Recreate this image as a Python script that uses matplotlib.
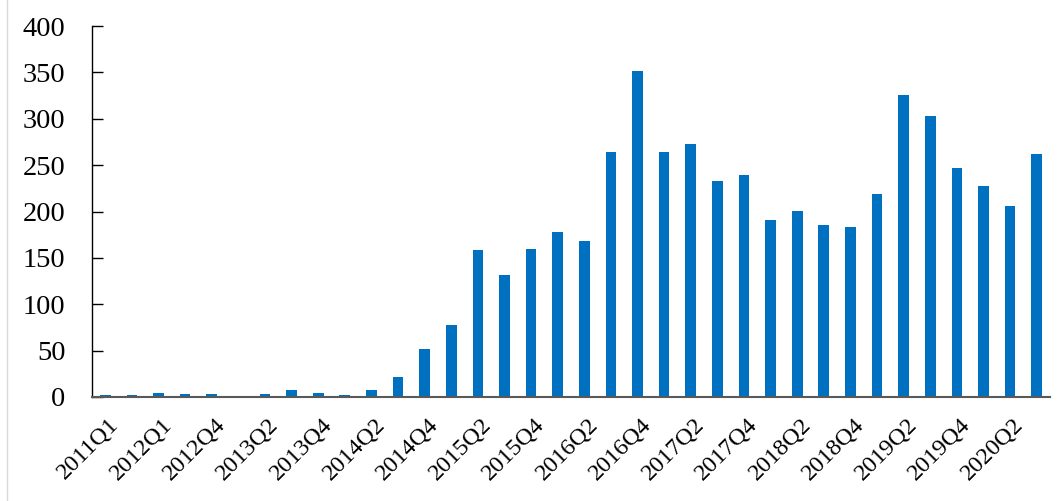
import matplotlib
matplotlib.use("Agg")
import matplotlib.pyplot as plt
from matplotlib.lines import Line2D
from matplotlib.transforms import ScaledTranslation

categories = ["2011Q1", "2011Q4", "2012Q1", "2012Q3", "2012Q4", "2013Q1", "2013Q2", "2013Q3",
              "2013Q4", "2014Q1", "2014Q2", "2014Q3", "2014Q4", "2015Q1", "2015Q2", "2015Q3",
              "2015Q4", "2016Q1", "2016Q2", "2016Q3", "2016Q4", "2017Q1", "2017Q2", "2017Q3",
              "2017Q4", "2018Q1", "2018Q2", "2018Q3", "2018Q4", "2019Q1", "2019Q2", "2019Q3",
              "2019Q4", "2020Q1", "2020Q2", "2020Q3"]
values = [2, 2, 4.5, 3, 3, 0, 3, 8,
          4, 2, 8, 22, 52, 78, 159, 131,
          160, 178, 168, 264, 352, 264, 273, 233,
          239, 191, 201, 185, 183, 219, 326, 303,
          247, 228, 206, 262]
yticks = [0, 50, 100, 150, 200, 250, 300, 350, 400]

plt.rcParams['font.family'] = ['Liberation Serif', 'DejaVu Serif']

fig = plt.figure(figsize=(10.59, 5.01), dpi=100)
ax = fig.add_axes([92/1059, 104/501, (1050-92)/1059, (397-26)/501])

x = list(range(len(categories)))
ax.bar(x, values, width=0.4, color="#0070C0", zorder=2)

ax.set_xlim(-0.5, len(categories) - 0.5)
ax.set_ylim(0, 400)
ax.set_yticks(yticks)
ax.set_yticklabels([str(v) for v in yticks], fontsize=20.5)

ax.set_xticks(x[::2])
ax.set_xticklabels(categories[::2], rotation=45, ha='right', rotation_mode='anchor', fontsize=17.5)
ax.tick_params(axis='x', length=0, pad=12)
ax.tick_params(axis='y', direction='in', length=8, width=1, pad=19, colors='black')
shift = ScaledTranslation(2/72, 0, fig.dpi_scale_trans)
for lab in ax.get_xticklabels():
    lab.set_transform(lab.get_transform() + shift)

for s in ['top', 'right']:
    ax.spines[s].set_visible(False)
ax.spines['left'].set_color('black')
ax.spines['left'].set_linewidth(1)
ax.spines['bottom'].set_color('#595959')
ax.spines['bottom'].set_linewidth(1.5)

fig.add_artist(Line2D([7/1059, 7/1059], [0, 1], color='#d9d9d9', lw=1, transform=fig.transFigure))

fig.savefig("out.png", dpi=100)
